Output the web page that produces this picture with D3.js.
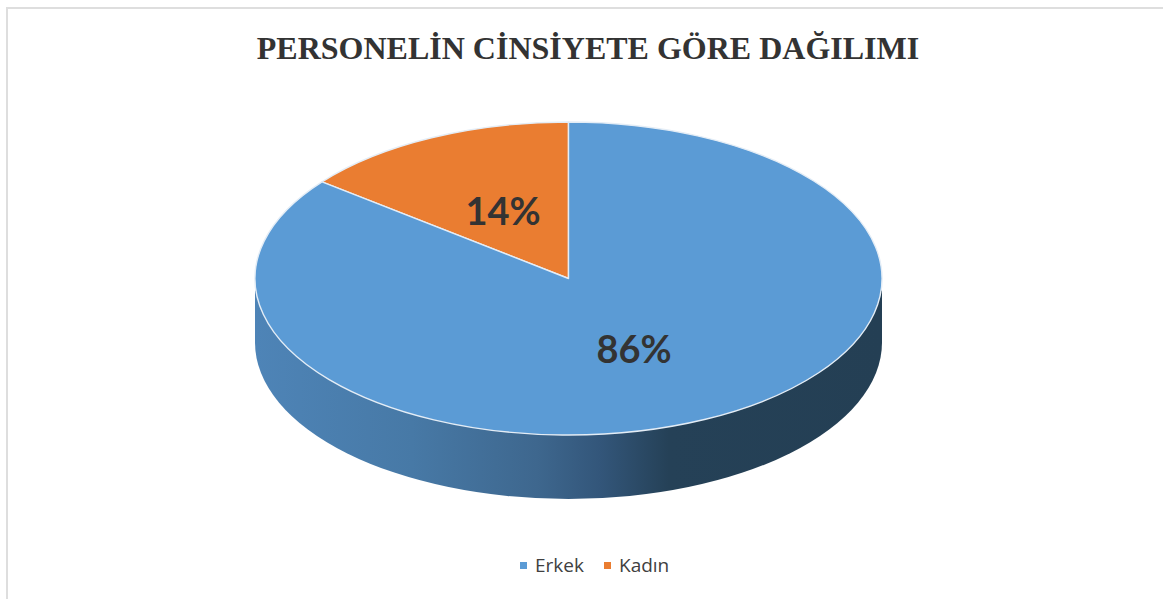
<!DOCTYPE html>
<html>
<head>
<meta charset="utf-8">
<script src="https://cdn.jsdelivr.net/npm/d3@7"></script>
<style>
    html, body { margin: 0; padding: 0; background: #fff; overflow: hidden; }
    svg { display: block; }
</style>
</head>
<body>
<svg id="chart"></svg>
<script>
const chartTitle = "PERSONELİN CİNSİYETE GÖRE DAĞILIMI";
const categories = ["Kadın", "Erkek"];
const shares = [14.4, 85.6];
const legendOrder = ["Erkek", "Kadın"];
const sliceColors = ["#ea7d31", "#5b9bd5"];

// horizontal shading of the pie wall, left to right
const wallOffsets = [0, 0.25, 0.45, 0.55, 0.66, 1];
const wallColors = ["#4e84b7", "#4779a6", "#3e678e", "#33567a", "#254157", "#243f54"];

const width = 1163, height = 599;
const cx = 568.5, cy = 278.5, rx = 313.5, ry = 156.5, depth = 64;

const svg = d3.select("#chart")
    .attr("width", width)
    .attr("height", height)
    .attr("viewBox", [0, 0, width, height]);

// frame, only top and left are inside the crop
svg.append("path")
    .attr("d", `M7,${height} V8 H${width}`)
    .attr("fill", "none")
    .attr("stroke", "#dedede")
    .attr("stroke-width", 2);

svg.append("text")
    .attr("x", 588)
    .attr("y", 59)
    .attr("text-anchor", "middle")
    .attr("font-family", "Liberation Serif")
    .attr("font-weight", "bold")
    .attr("font-size", 32)
    .attr("fill", "#333333")
    .text(chartTitle);

const grad = svg.append("defs").append("linearGradient")
    .attr("id", "wall")
    .attr("gradientUnits", "userSpaceOnUse")
    .attr("x1", cx - rx).attr("x2", cx + rx)
    .attr("y1", 0).attr("y2", 0);
grad.selectAll("stop")
    .data(wallOffsets)
    .join("stop")
    .attr("offset", d => d)
    .attr("stop-color", (d, i) => wallColors[i]);

// front wall: the lower half of the top ellipse pushed down by the depth
// starts a bit under the rim, the closing line is hidden by the top
const wallTop = cy + 12;
svg.append("path")
    .attr("d", `M${cx - rx},${wallTop} V${cy + depth} A${rx},${ry} 0 0 0 ${cx + rx},${cy + depth} V${wallTop} Z`)
    .attr("fill", "url(#wall)");

const color = d3.scaleOrdinal().domain(categories).range(sliceColors);
const arc = d3.arc().innerRadius(0).outerRadius(rx);

// Kadın starts left of twelve o'clock and ends at it
const startAt = -2 * Math.PI * shares[0] / d3.sum(shares);
const pie = d3.pie()
    .sort(null)
    .value(d => d.share)
    .startAngle(startAt)
    .endAngle(startAt + 2 * Math.PI);
const slices = pie(categories.map((c, i) => ({ name: c, share: shares[i] })));

const top3d = svg.append("g")
    .attr("transform", `translate(${cx},${cy}) scale(1,${ry / rx})`);

top3d.selectAll("path")
    .data(slices)
    .join("path")
    .attr("d", arc)
    .attr("fill", d => color(d.data.name))
    .attr("stroke", "#e4edf6")
    .attr("stroke-width", 1.4)
    .attr("vector-effect", "non-scaling-stroke")
    .attr("stroke-linejoin", "round");

const labelPos = { "Kadın": [503, 225], "Erkek": [634, 363] };
svg.selectAll("text.pct")
    .data(slices)
    .join("text")
    .attr("class", "pct")
    .attr("x", d => labelPos[d.data.name][0])
    .attr("y", d => labelPos[d.data.name][1])
    .attr("text-anchor", "middle")
    .attr("font-family", "Lato")
    .attr("font-weight", "bold")
    .attr("font-size", 38)
    .attr("fill", "#333333")
    .text(d => d3.format(".0f")(d.data.share) + "%");

// legend
const legendX = d3.scaleOrdinal().domain(legendOrder).range([520, 604]);
const legend = svg.selectAll("g.legend")
    .data(legendOrder)
    .join("g")
    .attr("class", "legend")
    .attr("transform", d => `translate(${legendX(d)},565)`);
legend.append("rect")
    .attr("x", 0).attr("y", -3)
    .attr("width", 7).attr("height", 7)
    .attr("fill", d => sliceColors[categories.indexOf(d)]);
legend.append("text")
    .attr("x", 15)
    .attr("y", 7)
    .attr("font-family", "Open Sans")
    .attr("font-size", 19)
    .attr("fill", "#404040")
    .text(d => d);
</script>
</body>
</html>
